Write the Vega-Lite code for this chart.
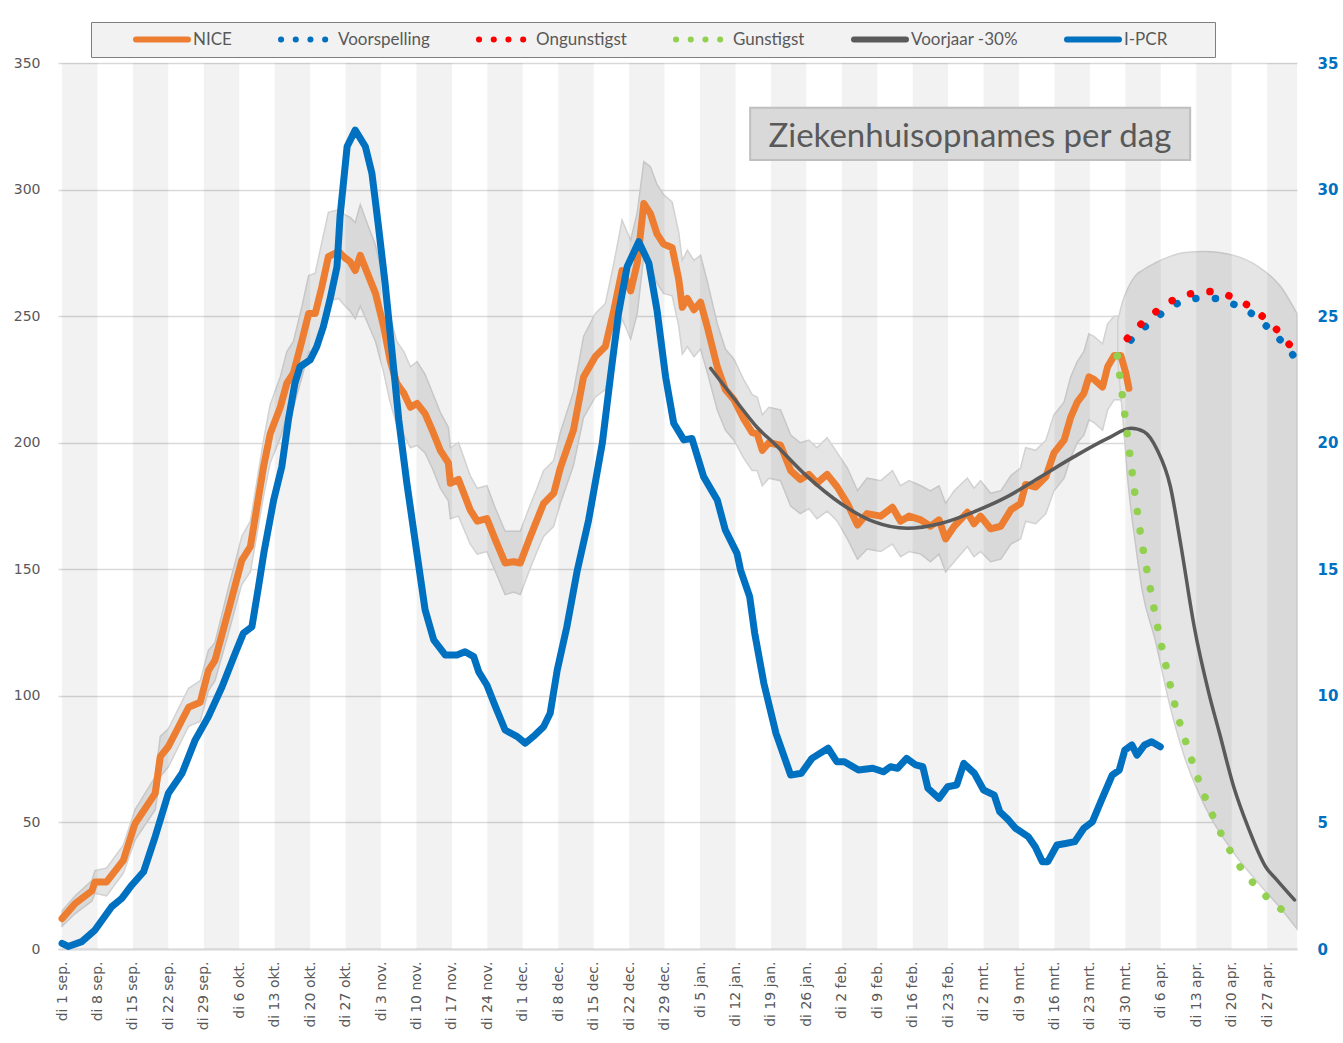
{
  "$schema": "https://vega.github.io/schema/vega-lite/v6.json",
  "width": 1239,
  "height": 886,
  "autosize": {"type": "none"},
  "padding": {"left": 58, "top": 63, "right": 46, "bottom": 94},
  "background": "white",
  "config": {"view": {"stroke": null}, "font": "Lato", "axisX": {"labelOverlap": false, "tickCount": 60}},
  "datasets": {
    "weken": [
      {"van": 0, "tot": 7}, {"van": 14, "tot": 21}, {"van": 28, "tot": 35}, {"van": 42, "tot": 49},
      {"van": 56, "tot": 63}, {"van": 70, "tot": 77}, {"van": 84, "tot": 91}, {"van": 98, "tot": 105},
      {"van": 112, "tot": 119}, {"van": 126, "tot": 133}, {"van": 140, "tot": 147}, {"van": 154, "tot": 161},
      {"van": 168, "tot": 175}, {"van": 182, "tot": 189}, {"van": 196, "tot": 203}, {"van": 210, "tot": 217},
      {"van": 224, "tot": 231}, {"van": 238, "tot": 245}
    ],
    "nice": [
      {"dag": 0, "serie": "NICE", "waarde": 12, "laag": 9, "hoog": 15},
      {"dag": 2.6, "serie": "NICE", "waarde": 18, "laag": 14, "hoog": 21},
      {"dag": 5.9, "serie": "NICE", "waarde": 23, "laag": 19, "hoog": 27},
      {"dag": 6.5, "serie": "NICE", "waarde": 26.5, "laag": 22, "hoog": 31},
      {"dag": 8.8, "serie": "NICE", "waarde": 26.5, "laag": 21, "hoog": 32},
      {"dag": 12.1, "serie": "NICE", "waarde": 35, "laag": 30, "hoog": 41},
      {"dag": 14.4, "serie": "NICE", "waarde": 49.5, "laag": 43, "hoog": 55},
      {"dag": 18.4, "serie": "NICE", "waarde": 61.5, "laag": 55, "hoog": 68},
      {"dag": 19.4, "serie": "NICE", "waarde": 76, "laag": 68, "hoog": 84},
      {"dag": 21, "serie": "NICE", "waarde": 80, "laag": 72, "hoog": 87},
      {"dag": 25, "serie": "NICE", "waarde": 95.5, "laag": 88, "hoog": 103},
      {"dag": 27.3, "serie": "NICE", "waarde": 97.5, "laag": 90, "hoog": 106},
      {"dag": 28.9, "serie": "NICE", "waarde": 110, "laag": 102, "hoog": 118},
      {"dag": 30.2, "serie": "NICE", "waarde": 114, "laag": 106, "hoog": 121},
      {"dag": 32.9, "serie": "NICE", "waarde": 134, "laag": 125, "hoog": 143},
      {"dag": 34.5, "serie": "NICE", "waarde": 146, "laag": 137, "hoog": 155},
      {"dag": 35.5, "serie": "NICE", "waarde": 153.5, "laag": 144, "hoog": 163},
      {"dag": 37.2, "serie": "NICE", "waarde": 159, "laag": 149, "hoog": 169},
      {"dag": 39.8, "serie": "NICE", "waarde": 190.5, "laag": 179, "hoog": 201},
      {"dag": 41.1, "serie": "NICE", "waarde": 203.5, "laag": 192, "hoog": 215},
      {"dag": 43.1, "serie": "NICE", "waarde": 214, "laag": 202, "hoog": 226},
      {"dag": 44.4, "serie": "NICE", "waarde": 223.5, "laag": 211, "hoog": 236},
      {"dag": 45.7, "serie": "NICE", "waarde": 227.5, "laag": 214, "hoog": 240},
      {"dag": 47.4, "serie": "NICE", "waarde": 240.5, "laag": 226, "hoog": 254},
      {"dag": 48.7, "serie": "NICE", "waarde": 251, "laag": 236, "hoog": 266},
      {"dag": 50, "serie": "NICE", "waarde": 251, "laag": 235, "hoog": 267},
      {"dag": 51.3, "serie": "NICE", "waarde": 261.5, "laag": 245, "hoog": 279},
      {"dag": 52.6, "serie": "NICE", "waarde": 273.5, "laag": 256, "hoog": 291},
      {"dag": 54.6, "serie": "NICE", "waarde": 275.5, "laag": 257, "hoog": 292},
      {"dag": 55.9, "serie": "NICE", "waarde": 273, "laag": 254, "hoog": 290},
      {"dag": 56.9, "serie": "NICE", "waarde": 271.5, "laag": 252, "hoog": 289},
      {"dag": 57.9, "serie": "NICE", "waarde": 268, "laag": 249, "hoog": 287},
      {"dag": 58.9, "serie": "NICE", "waarde": 274, "laag": 254, "hoog": 294},
      {"dag": 60.2, "serie": "NICE", "waarde": 267.5, "laag": 248, "hoog": 287},
      {"dag": 61.9, "serie": "NICE", "waarde": 259, "laag": 240, "hoog": 278},
      {"dag": 63.5, "serie": "NICE", "waarde": 246, "laag": 228, "hoog": 264},
      {"dag": 64.8, "serie": "NICE", "waarde": 232.5, "laag": 216, "hoog": 250},
      {"dag": 66.1, "serie": "NICE", "waarde": 223.5, "laag": 207, "hoog": 240},
      {"dag": 67.5, "serie": "NICE", "waarde": 219.5, "laag": 203, "hoog": 236},
      {"dag": 68.8, "serie": "NICE", "waarde": 214, "laag": 198, "hoog": 230},
      {"dag": 70.1, "serie": "NICE", "waarde": 215.5, "laag": 199, "hoog": 232},
      {"dag": 71.7, "serie": "NICE", "waarde": 211.5, "laag": 196, "hoog": 227},
      {"dag": 73.1, "serie": "NICE", "waarde": 205, "laag": 190, "hoog": 220},
      {"dag": 74.7, "serie": "NICE", "waarde": 197, "laag": 182, "hoog": 212},
      {"dag": 76.3, "serie": "NICE", "waarde": 192, "laag": 177, "hoog": 206},
      {"dag": 76.7, "serie": "NICE", "waarde": 184, "laag": 170, "hoog": 198},
      {"dag": 78.3, "serie": "NICE", "waarde": 185.5, "laag": 171, "hoog": 200},
      {"dag": 80.6, "serie": "NICE", "waarde": 173.5, "laag": 160, "hoog": 187},
      {"dag": 82, "serie": "NICE", "waarde": 169, "laag": 156, "hoog": 182},
      {"dag": 83.9, "serie": "NICE", "waarde": 170, "laag": 157, "hoog": 183},
      {"dag": 85.6, "serie": "NICE", "waarde": 161.5, "laag": 149, "hoog": 174},
      {"dag": 87.5, "serie": "NICE", "waarde": 152.5, "laag": 140, "hoog": 165},
      {"dag": 89.2, "serie": "NICE", "waarde": 153, "laag": 141, "hoog": 165},
      {"dag": 90.5, "serie": "NICE", "waarde": 152.5, "laag": 140, "hoog": 165},
      {"dag": 92.2, "serie": "NICE", "waarde": 161.5, "laag": 149, "hoog": 174},
      {"dag": 93.8, "serie": "NICE", "waarde": 169.5, "laag": 157, "hoog": 182},
      {"dag": 95.1, "serie": "NICE", "waarde": 176, "laag": 163, "hoog": 189},
      {"dag": 97.1, "serie": "NICE", "waarde": 180, "laag": 167, "hoog": 193},
      {"dag": 98.4, "serie": "NICE", "waarde": 190, "laag": 176, "hoog": 204},
      {"dag": 101, "serie": "NICE", "waarde": 205, "laag": 191, "hoog": 220},
      {"dag": 103, "serie": "NICE", "waarde": 226, "laag": 210, "hoog": 242},
      {"dag": 105.3, "serie": "NICE", "waarde": 234, "laag": 218, "hoog": 251},
      {"dag": 107.3, "serie": "NICE", "waarde": 238, "laag": 221, "hoog": 255},
      {"dag": 109, "serie": "NICE", "waarde": 252.5, "laag": 234, "hoog": 271},
      {"dag": 110.6, "serie": "NICE", "waarde": 268, "laag": 249, "hoog": 288},
      {"dag": 112.3, "serie": "NICE", "waarde": 260, "laag": 241, "hoog": 280},
      {"dag": 113.6, "serie": "NICE", "waarde": 271, "laag": 251, "hoog": 291},
      {"dag": 114.9, "serie": "NICE", "waarde": 294.5, "laag": 274, "hoog": 311},
      {"dag": 116.2, "serie": "NICE", "waarde": 290.5, "laag": 270, "hoog": 309},
      {"dag": 117.5, "serie": "NICE", "waarde": 282.5, "laag": 263, "hoog": 302},
      {"dag": 118.8, "serie": "NICE", "waarde": 278.5, "laag": 259, "hoog": 298},
      {"dag": 120.5, "serie": "NICE", "waarde": 277, "laag": 258, "hoog": 295},
      {"dag": 121.8, "serie": "NICE", "waarde": 264.5, "laag": 246, "hoog": 283},
      {"dag": 122.5, "serie": "NICE", "waarde": 253.5, "laag": 235, "hoog": 272},
      {"dag": 123.5, "serie": "NICE", "waarde": 257, "laag": 238, "hoog": 276},
      {"dag": 124.8, "serie": "NICE", "waarde": 252.5, "laag": 234, "hoog": 272},
      {"dag": 126.1, "serie": "NICE", "waarde": 255.5, "laag": 237, "hoog": 274},
      {"dag": 127.4, "serie": "NICE", "waarde": 246, "laag": 228, "hoog": 264},
      {"dag": 129.4, "serie": "NICE", "waarde": 230, "laag": 213, "hoog": 247},
      {"dag": 131, "serie": "NICE", "waarde": 221, "laag": 205, "hoog": 237},
      {"dag": 132.7, "serie": "NICE", "waarde": 217, "laag": 201, "hoog": 233},
      {"dag": 134.6, "serie": "NICE", "waarde": 209.5, "laag": 194, "hoog": 225},
      {"dag": 136.3, "serie": "NICE", "waarde": 204, "laag": 189, "hoog": 219},
      {"dag": 137.3, "serie": "NICE", "waarde": 203.5, "laag": 189, "hoog": 218},
      {"dag": 138.3, "serie": "NICE", "waarde": 197, "laag": 183, "hoog": 211},
      {"dag": 139.6, "serie": "NICE", "waarde": 200, "laag": 186, "hoog": 214},
      {"dag": 141.9, "serie": "NICE", "waarde": 199, "laag": 185, "hoog": 213},
      {"dag": 143.9, "serie": "NICE", "waarde": 189, "laag": 175, "hoog": 203},
      {"dag": 145.8, "serie": "NICE", "waarde": 185.5, "laag": 172, "hoog": 200},
      {"dag": 147.5, "serie": "NICE", "waarde": 187.5, "laag": 174, "hoog": 201},
      {"dag": 149.1, "serie": "NICE", "waarde": 184, "laag": 170, "hoog": 198},
      {"dag": 151.1, "serie": "NICE", "waarde": 187.5, "laag": 173, "hoog": 202},
      {"dag": 153.1, "serie": "NICE", "waarde": 182.5, "laag": 169, "hoog": 196},
      {"dag": 155.1, "serie": "NICE", "waarde": 176, "laag": 162, "hoog": 190},
      {"dag": 157.1, "serie": "NICE", "waarde": 167.5, "laag": 154, "hoog": 181},
      {"dag": 159, "serie": "NICE", "waarde": 172, "laag": 158, "hoog": 186},
      {"dag": 161.7, "serie": "NICE", "waarde": 171, "laag": 157, "hoog": 185},
      {"dag": 164, "serie": "NICE", "waarde": 174.5, "laag": 160, "hoog": 189},
      {"dag": 165.6, "serie": "NICE", "waarde": 169, "laag": 155, "hoog": 183},
      {"dag": 167.3, "serie": "NICE", "waarde": 171, "laag": 157, "hoog": 185},
      {"dag": 169.6, "serie": "NICE", "waarde": 169.5, "laag": 156, "hoog": 183},
      {"dag": 171.5, "serie": "NICE", "waarde": 167, "laag": 153, "hoog": 181},
      {"dag": 173.2, "serie": "NICE", "waarde": 169.5, "laag": 156, "hoog": 183},
      {"dag": 174.5, "serie": "NICE", "waarde": 162, "laag": 149, "hoog": 176},
      {"dag": 176.2, "serie": "NICE", "waarde": 167, "laag": 153, "hoog": 181},
      {"dag": 178.8, "serie": "NICE", "waarde": 172.5, "laag": 159, "hoog": 186},
      {"dag": 180.1, "serie": "NICE", "waarde": 168, "laag": 155, "hoog": 182},
      {"dag": 181.4, "serie": "NICE", "waarde": 171, "laag": 157, "hoog": 185},
      {"dag": 183.4, "serie": "NICE", "waarde": 166, "laag": 153, "hoog": 180},
      {"dag": 185.4, "serie": "NICE", "waarde": 167, "laag": 154, "hoog": 181},
      {"dag": 187.4, "serie": "NICE", "waarde": 173.5, "laag": 160, "hoog": 187},
      {"dag": 189.3, "serie": "NICE", "waarde": 176, "laag": 162, "hoog": 190},
      {"dag": 190.3, "serie": "NICE", "waarde": 183.5, "laag": 169, "hoog": 198},
      {"dag": 192.3, "serie": "NICE", "waarde": 182.5, "laag": 168, "hoog": 197},
      {"dag": 194.3, "serie": "NICE", "waarde": 186.5, "laag": 172, "hoog": 201},
      {"dag": 195.9, "serie": "NICE", "waarde": 196, "laag": 181, "hoog": 211},
      {"dag": 197.9, "serie": "NICE", "waarde": 201, "laag": 186, "hoog": 216},
      {"dag": 199.2, "serie": "NICE", "waarde": 210, "laag": 194, "hoog": 226},
      {"dag": 200.5, "serie": "NICE", "waarde": 216, "laag": 200, "hoog": 232},
      {"dag": 201.8, "serie": "NICE", "waarde": 219.5, "laag": 203, "hoog": 236},
      {"dag": 202.8, "serie": "NICE", "waarde": 226, "laag": 209, "hoog": 243},
      {"dag": 203.8, "serie": "NICE", "waarde": 225, "laag": 208, "hoog": 242},
      {"dag": 205.5, "serie": "NICE", "waarde": 222, "laag": 205, "hoog": 239},
      {"dag": 206.5, "serie": "NICE", "waarde": 230, "laag": 213, "hoog": 247},
      {"dag": 207.8, "serie": "NICE", "waarde": 234.5, "laag": 217, "hoog": 250},
      {"dag": 209.1, "serie": "NICE", "waarde": 234.5, "laag": 217, "hoog": 250},
      {"dag": 210.1, "serie": "NICE", "waarde": 227.5, "laag": 212, "hoog": 242},
      {"dag": 210.7, "serie": "NICE", "waarde": 221.5, "laag": 207, "hoog": 236}
    ],
    "prognoseband": [
      {"dag": 208.5, "laag": 232, "hoog": 248},
      {"dag": 209.5, "laag": 210, "hoog": 256},
      {"dag": 210.5, "laag": 185, "hoog": 261},
      {"dag": 212, "laag": 160, "hoog": 266},
      {"dag": 213.3, "laag": 142, "hoog": 268},
      {"dag": 215.9, "laag": 122, "hoog": 271},
      {"dag": 218.7, "laag": 97, "hoog": 273.5},
      {"dag": 221.5, "laag": 77, "hoog": 275},
      {"dag": 225.8, "laag": 56, "hoog": 275.5},
      {"dag": 231.4, "laag": 38, "hoog": 274},
      {"dag": 236.3, "laag": 26, "hoog": 269.5},
      {"dag": 240.7, "laag": 16, "hoog": 261.6},
      {"dag": 243.9, "laag": 8, "hoog": 251}
    ],
    "voorjaar": [
      {"dag": 128.1, "serie": "Voorjaar -30%", "waarde": 229.4},
      {"dag": 134, "serie": "Voorjaar -30%", "waarde": 214.2},
      {"dag": 137.3, "serie": "Voorjaar -30%", "waarde": 206},
      {"dag": 140.6, "serie": "Voorjaar -30%", "waarde": 199.8},
      {"dag": 147.2, "serie": "Voorjaar -30%", "waarde": 186.6},
      {"dag": 153.8, "serie": "Voorjaar -30%", "waarde": 176},
      {"dag": 160.3, "serie": "Voorjaar -30%", "waarde": 168.8},
      {"dag": 166.9, "serie": "Voorjaar -30%", "waarde": 166.2},
      {"dag": 173.5, "serie": "Voorjaar -30%", "waarde": 168.1},
      {"dag": 180.1, "serie": "Voorjaar -30%", "waarde": 172.7},
      {"dag": 186.7, "serie": "Voorjaar -30%", "waarde": 178.7},
      {"dag": 193.3, "serie": "Voorjaar -30%", "waarde": 186.6},
      {"dag": 199.9, "serie": "Voorjaar -30%", "waarde": 194.5},
      {"dag": 206.5, "serie": "Voorjaar -30%", "waarde": 201.7},
      {"dag": 211.1, "serie": "Voorjaar -30%", "waarde": 205.7},
      {"dag": 213.7, "serie": "Voorjaar -30%", "waarde": 204.3},
      {"dag": 216.3, "serie": "Voorjaar -30%", "waarde": 197.1},
      {"dag": 218.9, "serie": "Voorjaar -30%", "waarde": 182.6},
      {"dag": 220.9, "serie": "Voorjaar -30%", "waarde": 160.3},
      {"dag": 223.6, "serie": "Voorjaar -30%", "waarde": 127.3},
      {"dag": 226.5, "serie": "Voorjaar -30%", "waarde": 101},
      {"dag": 228.6, "serie": "Voorjaar -30%", "waarde": 85.2},
      {"dag": 231.4, "serie": "Voorjaar -30%", "waarde": 64.1},
      {"dag": 234.2, "serie": "Voorjaar -30%", "waarde": 48.3},
      {"dag": 237.7, "serie": "Voorjaar -30%", "waarde": 32.5},
      {"dag": 239.9, "serie": "Voorjaar -30%", "waarde": 27.3},
      {"dag": 243.4, "serie": "Voorjaar -30%", "waarde": 19.4}
    ],
    "scenarios": [
      {"dag": 211.1, "serie": "Voorspelling", "waarde": 240.6},
      {"dag": 213.9, "serie": "Voorspelling", "waarde": 245.8},
      {"dag": 217, "serie": "Voorspelling", "waarde": 250.8},
      {"dag": 220.3, "serie": "Voorspelling", "waarde": 255},
      {"dag": 224.1, "serie": "Voorspelling", "waarde": 257},
      {"dag": 228, "serie": "Voorspelling", "waarde": 257},
      {"dag": 231.7, "serie": "Voorspelling", "waarde": 254.4},
      {"dag": 235.1, "serie": "Voorspelling", "waarde": 250.8},
      {"dag": 238.1, "serie": "Voorspelling", "waarde": 245.6},
      {"dag": 240.9, "serie": "Voorspelling", "waarde": 239.9},
      {"dag": 243.4, "serie": "Voorspelling", "waarde": 233.9},
      {"dag": 210.4, "serie": "Ongunstigst", "waarde": 241.2},
      {"dag": 213, "serie": "Ongunstigst", "waarde": 246.7},
      {"dag": 216.2, "serie": "Ongunstigst", "waarde": 252},
      {"dag": 219.5, "serie": "Ongunstigst", "waarde": 256.4},
      {"dag": 223.3, "serie": "Ongunstigst", "waarde": 259},
      {"dag": 227.1, "serie": "Ongunstigst", "waarde": 259.7},
      {"dag": 230.9, "serie": "Ongunstigst", "waarde": 257.7},
      {"dag": 234.4, "serie": "Ongunstigst", "waarde": 254},
      {"dag": 237.6, "serie": "Ongunstigst", "waarde": 249},
      {"dag": 240.4, "serie": "Ongunstigst", "waarde": 243.6},
      {"dag": 242.8, "serie": "Ongunstigst", "waarde": 237.7},
      {"dag": 208.4, "serie": "Gunstigst", "waarde": 234.3},
      {"dag": 209.9, "serie": "Gunstigst", "waarde": 211},
      {"dag": 211.4, "serie": "Gunstigst", "waarde": 187.3},
      {"dag": 213, "serie": "Gunstigst", "waarde": 164},
      {"dag": 214.6, "serie": "Gunstigst", "waarde": 146},
      {"dag": 216.6, "serie": "Gunstigst", "waarde": 125},
      {"dag": 218.3, "serie": "Gunstigst", "waarde": 109.3},
      {"dag": 220.1, "serie": "Gunstigst", "waarde": 94},
      {"dag": 222.4, "serie": "Gunstigst", "waarde": 79},
      {"dag": 225, "serie": "Gunstigst", "waarde": 63.9},
      {"dag": 228, "serie": "Gunstigst", "waarde": 49.4},
      {"dag": 231.7, "serie": "Gunstigst", "waarde": 35.4},
      {"dag": 236.7, "serie": "Gunstigst", "waarde": 23},
      {"dag": 242.7, "serie": "Gunstigst", "waarde": 12.8}
    ],
    "ipcr": [
      {"dag": 0, "serie": "I-PCR", "waarde": 0.22}, {"dag": 1.2, "serie": "I-PCR", "waarde": 0.1},
      {"dag": 3.9, "serie": "I-PCR", "waarde": 0.29}, {"dag": 6.5, "serie": "I-PCR", "waarde": 0.75},
      {"dag": 9.8, "serie": "I-PCR", "waarde": 1.67}, {"dag": 11.8, "serie": "I-PCR", "waarde": 2.0},
      {"dag": 13.8, "serie": "I-PCR", "waarde": 2.53}, {"dag": 16.1, "serie": "I-PCR", "waarde": 3.05},
      {"dag": 18.4, "serie": "I-PCR", "waarde": 4.44}, {"dag": 21, "serie": "I-PCR", "waarde": 6.15},
      {"dag": 23.7, "serie": "I-PCR", "waarde": 6.94}, {"dag": 26.3, "serie": "I-PCR", "waarde": 8.26},
      {"dag": 28.9, "serie": "I-PCR", "waarde": 9.18}, {"dag": 31.6, "serie": "I-PCR", "waarde": 10.36},
      {"dag": 34.2, "serie": "I-PCR", "waarde": 11.68}, {"dag": 35.8, "serie": "I-PCR", "waarde": 12.47},
      {"dag": 37.5, "serie": "I-PCR", "waarde": 12.73}, {"dag": 38.8, "serie": "I-PCR", "waarde": 14.31},
      {"dag": 39.9, "serie": "I-PCR", "waarde": 15.7}, {"dag": 41.8, "serie": "I-PCR", "waarde": 17.74},
      {"dag": 43.4, "serie": "I-PCR", "waarde": 19.05}, {"dag": 44.7, "serie": "I-PCR", "waarde": 20.9},
      {"dag": 46, "serie": "I-PCR", "waarde": 22.35}, {"dag": 47, "serie": "I-PCR", "waarde": 23.0},
      {"dag": 49, "serie": "I-PCR", "waarde": 23.27}, {"dag": 50.3, "serie": "I-PCR", "waarde": 23.79},
      {"dag": 51.6, "serie": "I-PCR", "waarde": 24.58}, {"dag": 52.9, "serie": "I-PCR", "waarde": 25.64},
      {"dag": 54.3, "serie": "I-PCR", "waarde": 26.95}, {"dag": 54.9, "serie": "I-PCR", "waarde": 28.93},
      {"dag": 56.3, "serie": "I-PCR", "waarde": 31.7}, {"dag": 57.9, "serie": "I-PCR", "waarde": 32.35},
      {"dag": 59.9, "serie": "I-PCR", "waarde": 31.7}, {"dag": 61.2, "serie": "I-PCR", "waarde": 30.64},
      {"dag": 62.5, "serie": "I-PCR", "waarde": 28.53}, {"dag": 63.8, "serie": "I-PCR", "waarde": 26.3},
      {"dag": 65.2, "serie": "I-PCR", "waarde": 23.53}, {"dag": 66.5, "serie": "I-PCR", "waarde": 20.9},
      {"dag": 68.1, "serie": "I-PCR", "waarde": 18.4}, {"dag": 69.8, "serie": "I-PCR", "waarde": 16.03},
      {"dag": 71.7, "serie": "I-PCR", "waarde": 13.4}, {"dag": 73.4, "serie": "I-PCR", "waarde": 12.21},
      {"dag": 75.7, "serie": "I-PCR", "waarde": 11.61}, {"dag": 78, "serie": "I-PCR", "waarde": 11.61},
      {"dag": 79.6, "serie": "I-PCR", "waarde": 11.74}, {"dag": 81.3, "serie": "I-PCR", "waarde": 11.55},
      {"dag": 82.3, "serie": "I-PCR", "waarde": 10.95}, {"dag": 83.9, "serie": "I-PCR", "waarde": 10.43},
      {"dag": 85.6, "serie": "I-PCR", "waarde": 9.57}, {"dag": 87.5, "serie": "I-PCR", "waarde": 8.65},
      {"dag": 89.9, "serie": "I-PCR", "waarde": 8.39}, {"dag": 91.5, "serie": "I-PCR", "waarde": 8.13},
      {"dag": 93.4, "serie": "I-PCR", "waarde": 8.45}, {"dag": 95.1, "serie": "I-PCR", "waarde": 8.78},
      {"dag": 96.4, "serie": "I-PCR", "waarde": 9.31}, {"dag": 97.8, "serie": "I-PCR", "waarde": 11.02},
      {"dag": 99.7, "serie": "I-PCR", "waarde": 12.73}, {"dag": 101.7, "serie": "I-PCR", "waarde": 14.9},
      {"dag": 104, "serie": "I-PCR", "waarde": 16.95}, {"dag": 106.7, "serie": "I-PCR", "waarde": 19.98},
      {"dag": 108.3, "serie": "I-PCR", "waarde": 22.6}, {"dag": 109.9, "serie": "I-PCR", "waarde": 25.11},
      {"dag": 111.6, "serie": "I-PCR", "waarde": 26.95}, {"dag": 113.9, "serie": "I-PCR", "waarde": 27.94},
      {"dag": 115.9, "serie": "I-PCR", "waarde": 27.09}, {"dag": 117.5, "serie": "I-PCR", "waarde": 25.24},
      {"dag": 119.2, "serie": "I-PCR", "waarde": 22.6}, {"dag": 120.8, "serie": "I-PCR", "waarde": 20.77},
      {"dag": 122.8, "serie": "I-PCR", "waarde": 20.11}, {"dag": 124.4, "serie": "I-PCR", "waarde": 20.17},
      {"dag": 126.7, "serie": "I-PCR", "waarde": 18.66}, {"dag": 129.4, "serie": "I-PCR", "waarde": 17.74},
      {"dag": 131, "serie": "I-PCR", "waarde": 16.55}, {"dag": 133.3, "serie": "I-PCR", "waarde": 15.63},
      {"dag": 134, "serie": "I-PCR", "waarde": 14.97}, {"dag": 135.8, "serie": "I-PCR", "waarde": 13.92},
      {"dag": 136.8, "serie": "I-PCR", "waarde": 12.47}, {"dag": 138.6, "serie": "I-PCR", "waarde": 10.5},
      {"dag": 141, "serie": "I-PCR", "waarde": 8.52}, {"dag": 143.9, "serie": "I-PCR", "waarde": 6.87},
      {"dag": 146, "serie": "I-PCR", "waarde": 6.94}, {"dag": 148.1, "serie": "I-PCR", "waarde": 7.53},
      {"dag": 151.3, "serie": "I-PCR", "waarde": 7.93}, {"dag": 153, "serie": "I-PCR", "waarde": 7.4},
      {"dag": 154.5, "serie": "I-PCR", "waarde": 7.4}, {"dag": 157.3, "serie": "I-PCR", "waarde": 7.07},
      {"dag": 160.1, "serie": "I-PCR", "waarde": 7.14}, {"dag": 162.2, "serie": "I-PCR", "waarde": 7.0},
      {"dag": 163.6, "serie": "I-PCR", "waarde": 7.2}, {"dag": 165, "serie": "I-PCR", "waarde": 7.14},
      {"dag": 166.8, "serie": "I-PCR", "waarde": 7.53}, {"dag": 168.6, "serie": "I-PCR", "waarde": 7.27},
      {"dag": 170, "serie": "I-PCR", "waarde": 7.2}, {"dag": 171, "serie": "I-PCR", "waarde": 6.35},
      {"dag": 173.2, "serie": "I-PCR", "waarde": 5.95}, {"dag": 174.9, "serie": "I-PCR", "waarde": 6.41},
      {"dag": 176.7, "serie": "I-PCR", "waarde": 6.48}, {"dag": 178.1, "serie": "I-PCR", "waarde": 7.33},
      {"dag": 180.2, "serie": "I-PCR", "waarde": 6.94}, {"dag": 182, "serie": "I-PCR", "waarde": 6.28},
      {"dag": 184.1, "serie": "I-PCR", "waarde": 6.08}, {"dag": 185.2, "serie": "I-PCR", "waarde": 5.42},
      {"dag": 186.9, "serie": "I-PCR", "waarde": 5.1}, {"dag": 188.3, "serie": "I-PCR", "waarde": 4.77},
      {"dag": 190.8, "serie": "I-PCR", "waarde": 4.44}, {"dag": 192.2, "serie": "I-PCR", "waarde": 4.04},
      {"dag": 193.6, "serie": "I-PCR", "waarde": 3.45}, {"dag": 194.7, "serie": "I-PCR", "waarde": 3.45},
      {"dag": 196.5, "serie": "I-PCR", "waarde": 4.11}, {"dag": 198.2, "serie": "I-PCR", "waarde": 4.17},
      {"dag": 200, "serie": "I-PCR", "waarde": 4.24}, {"dag": 201.8, "serie": "I-PCR", "waarde": 4.77},
      {"dag": 203.5, "serie": "I-PCR", "waarde": 5.03}, {"dag": 205.3, "serie": "I-PCR", "waarde": 5.89},
      {"dag": 207.4, "serie": "I-PCR", "waarde": 6.87}, {"dag": 208.8, "serie": "I-PCR", "waarde": 7.07},
      {"dag": 209.9, "serie": "I-PCR", "waarde": 7.86}, {"dag": 211.3, "serie": "I-PCR", "waarde": 8.06},
      {"dag": 212.3, "serie": "I-PCR", "waarde": 7.66}, {"dag": 213.8, "serie": "I-PCR", "waarde": 8.06},
      {"dag": 215.2, "serie": "I-PCR", "waarde": 8.19}, {"dag": 216.9, "serie": "I-PCR", "waarde": 7.99}
    ]
  },
  "layer": [
    {
      "layer": [
        {
          "data": {"name": "nice"},
          "mark": {"type": "area", "color": "#e5e5e5", "stroke": "#d2d2d2", "strokeWidth": 1.5},
          "encoding": {
            "x": {"field": "dag", "type": "quantitative",
              "scale": {"domain": [-0.8, 243.9], "nice": false, "zero": false},
              "axis": {
                "values": [0, 7, 14, 21, 28, 35, 42, 49, 56, 63, 70, 77, 84, 91, 98, 105, 112, 119, 126, 133, 140, 147, 154, 161, 168, 175, 182, 189, 196, 203, 210, 217, 224, 231, 238],
                "tickCount": 60,
                "labelExpr": "'di ' + date(datetime(2020, 8, 1 + datum.value)) + ' ' + ['jan.','feb.','mrt.','apr.','mei','jun.','jul.','aug.','sep.','okt.','nov.','dec.'][month(datetime(2020, 8, 1 + datum.value))]",
                "labelAngle": -90, "labelFont": "DejaVu Sans", "labelFontSize": 14, "labelColor": "#595959",
                "labelPadding": 12, "labelFlush": false, "labelOverlap": false, "labelBound": false, "labelSeparation": 0,
                "ticks": false, "grid": false, "domain": true, "domainColor": "#d9d9d9", "domainWidth": 2, "title": null
              }},
            "y": {"field": "laag", "type": "quantitative",
              "scale": {"domain": [0, 350], "nice": false},
              "axis": {
                "values": [0, 50, 100, 150, 200, 250, 300, 350],
                "grid": true, "gridColor": "#d9d9d9", "gridWidth": 1.5, "ticks": false, "domain": false,
                "labelFont": "DejaVu Sans", "labelFontSize": 14, "labelColor": "#595959", "labelPadding": 18, "title": null
              }},
            "y2": {"field": "hoog"}
          }
        },
        {
          "data": {"name": "prognoseband"},
          "mark": {"type": "area", "color": "#e5e5e5", "stroke": "#d2d2d2", "strokeWidth": 1.5, "interpolate": "monotone"},
          "encoding": {
            "x": {"field": "dag", "type": "quantitative"},
            "y": {"field": "laag", "type": "quantitative"},
            "y2": {"field": "hoog"}
          }
        },
        {
          "data": {"name": "weken"},
          "mark": {"type": "rect", "color": "black", "opacity": 0.05, "clip": true},
          "encoding": {
            "x": {"field": "van", "type": "quantitative"},
            "x2": {"field": "tot"}
          }
        },
        {
          "data": {"name": "nice"},
          "mark": {"type": "line", "strokeWidth": 7, "strokeJoin": "round", "strokeCap": "round"},
          "encoding": {
            "x": {"field": "dag", "type": "quantitative"},
            "y": {"field": "waarde", "type": "quantitative"},
            "color": {"field": "serie", "type": "nominal",
              "scale": {"domain": ["NICE", "Voorspelling", "Ongunstigst", "Gunstigst", "Voorjaar -30%", "I-PCR"],
                        "range": ["#ed7d31", "#0070c0", "#ff0000", "#92d050", "#5a5a5a", "#0070c0"]},
              "legend": {
                "orient": "none", "legendX": 33, "legendY": -41, "direction": "horizontal", "columns": 6,
                "title": "\u00a0", "titleOrient": "left", "titlePadding": 33, "titleFontSize": 17, "titleFont": "Lato",
                "fillColor": "#f2f2f2", "strokeColor": "#7f7f7f", "padding": 9, "cornerRadius": 0,
                "symbolType": "stroke", "symbolSize": 2704, "symbolStrokeWidth": 6, "clipHeight": 17,
                "labelFont": "Lato", "labelFontSize": 17, "labelColor": "#595959", "labelOffset": 2, "columnPadding": 46,
                "labelExpr": "datum.label == 'I-PCR' ? 'I-PCR\u2003\u2003\u2003\u200b' : datum.label",
                "encoding": {
                  "symbols": {
                    "strokeDash": {"value": {"expr": "indexof(['Voorspelling','Ongunstigst','Gunstigst'], datum.value) >= 0 ? [0.1, 14.6] : [1, 0]"}},
                    "strokeCap": {"value": "round"}
                  }
                }
              }}
          }
        },
        {
          "data": {"name": "voorjaar"},
          "mark": {"type": "line", "strokeWidth": 3.5, "interpolate": "monotone", "strokeCap": "round"},
          "encoding": {
            "x": {"field": "dag", "type": "quantitative"},
            "y": {"field": "waarde", "type": "quantitative"},
            "color": {"field": "serie", "type": "nominal"}
          }
        },
        {
          "data": {"name": "scenarios"},
          "mark": {"type": "line", "strokeWidth": 7.5, "strokeDash": [0.1, 19.5], "strokeCap": "round", "interpolate": "monotone"},
          "encoding": {
            "x": {"field": "dag", "type": "quantitative"},
            "y": {"field": "waarde", "type": "quantitative"},
            "color": {"field": "serie", "type": "nominal"}
          }
        },
        {
          "data": {"values": [{"titel": "Ziekenhuisopnames per dag"}]},
          "layer": [
            {
              "mark": {"type": "rect", "fill": "#d9d9d9", "stroke": "#bfbfbf", "strokeWidth": 2},
              "encoding": {
                "x": {"datum": 135.9, "type": "quantitative"},
                "x2": {"datum": 222.8},
                "y": {"datum": 332.3, "type": "quantitative"},
                "y2": {"datum": 311.7}
              }
            },
            {
              "mark": {"type": "text", "font": "Lato", "fontSize": 33, "color": "#595959", "align": "center", "baseline": "alphabetic"},
              "encoding": {
                "x": {"datum": 179.3, "type": "quantitative"},
                "y": {"datum": 316.9, "type": "quantitative"},
                "text": {"field": "titel"}
              }
            }
          ]
        }
      ]
    },
    {
      "data": {"name": "ipcr"},
      "mark": {"type": "line", "strokeWidth": 7, "strokeJoin": "round", "strokeCap": "round"},
      "encoding": {
        "x": {"field": "dag", "type": "quantitative",
          "axis": {
            "values": [0, 7, 14, 21, 28, 35, 42, 49, 56, 63, 70, 77, 84, 91, 98, 105, 112, 119, 126, 133, 140, 147, 154, 161, 168, 175, 182, 189, 196, 203, 210, 217, 224, 231, 238],
            "tickCount": 60,
            "labelExpr": "'di ' + date(datetime(2020, 8, 1 + datum.value)) + ' ' + ['jan.','feb.','mrt.','apr.','mei','jun.','jul.','aug.','sep.','okt.','nov.','dec.'][month(datetime(2020, 8, 1 + datum.value))]",
            "labelAngle": -90, "labelFont": "DejaVu Sans", "labelFontSize": 14, "labelColor": "#595959",
            "labelPadding": 12, "labelFlush": false, "labelOverlap": false, "labelBound": false, "labelSeparation": 0,
            "ticks": false, "grid": false, "domain": true, "domainColor": "#d9d9d9", "domainWidth": 2, "title": null
          }},
        "y": {"field": "waarde", "type": "quantitative",
          "scale": {"domain": [0, 35], "nice": false},
          "axis": {
            "orient": "right", "values": [0, 5, 10, 15, 20, 25, 30, 35],
            "grid": false, "ticks": false, "domain": false,
            "labelFont": "DejaVu Sans", "labelFontSize": 15, "labelFontWeight": "bold", "labelColor": "#0070c0",
            "labelPadding": 20, "title": null
          }},
        "color": {"field": "serie", "type": "nominal"}
      }
    }
  ],
  "resolve": {"scale": {"y": "independent"}}
}
